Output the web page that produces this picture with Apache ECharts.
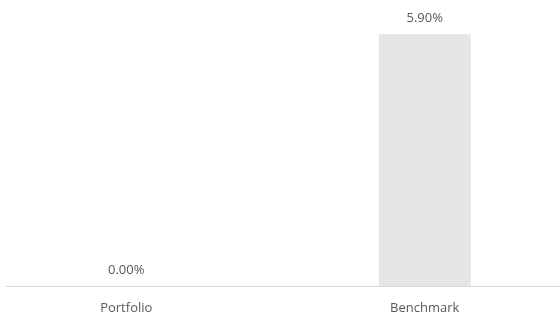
<!DOCTYPE html>
<html>
<head>
<meta charset="utf-8">
<script src="https://cdn.jsdelivr.net/npm/echarts@6/dist/echarts.min.js"></script>
<style>
  html, body { margin: 0; padding: 0; background: #fff; }
  #grafico { width: 560px; height: 314px; }
</style>
</head>
<body>
<div id="grafico"></div>
<script>
var categorias = ['Portfolio', 'Benchmark'];
var valores = [0.00, 5.90];

var myChart = echarts.init(document.getElementById('grafico'));

var option = {
    animation: false,
    textStyle: { fontFamily: 'Open Sans' },
    grid: [
        { left: -23, right: -14, top: 34, bottom: 28, outerBoundsMode: 'none' },
        { left: 6, right: 0, top: 34, bottom: 28, outerBoundsMode: 'none' }
    ],
    xAxis: [
        {
            type: 'category',
            gridIndex: 0,
            data: categorias,
            axisLine: { show: false },
            axisTick: { show: false },
            axisLabel: { color: '#595959', fontSize: 13, margin: 16 }
        },
        {
            type: 'category',
            gridIndex: 1,
            data: categorias,
            axisLine: { lineStyle: { color: '#d9d9d9', width: 1 } },
            axisTick: { show: false },
            axisLabel: { show: false }
        }
    ],
    yAxis: [
        { type: 'value', gridIndex: 0, min: 0, max: 5.9, show: false },
        { type: 'value', gridIndex: 1, min: 0, max: 5.9, show: false }
    ],
    series: [{
        type: 'bar',
        xAxisIndex: 0,
        yAxisIndex: 0,
        data: valores,
        barWidth: 92,
        itemStyle: { color: '#e6e6e6' },
        label: {
            show: true,
            position: 'top',
            distance: 9,
            color: '#595959',
            fontSize: 13,
            formatter: function (p) { return p.value.toFixed(2) + '%'; }
        }
    }]
};

myChart.setOption(option);
</script>
</body>
</html>
